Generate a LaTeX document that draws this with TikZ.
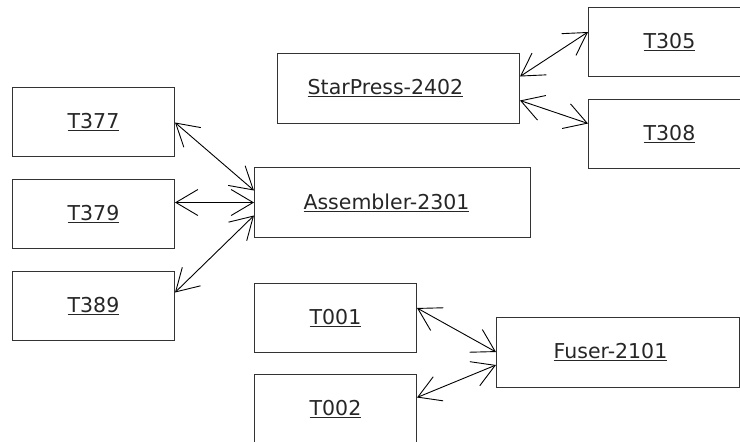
\documentclass[tikz,border=0pt]{standalone}
\usepackage{fontspec}
\setmainfont{DejaVu Sans}
\usetikzlibrary{arrows.meta}
\begin{document}
\begin{tikzpicture}[x=1pt,y=-1pt,
  box/.style={draw=black!80,line width=1pt,rectangle,inner sep=0pt,anchor=north west,font=\fontsize{20.5}{24}\selectfont,text=black!85},
  tbox/.style={box,minimum width=162pt,minimum height=69pt},
  bigbox/.style={box,minimum height=70pt},
  link/.style={line width=0.9pt,{Straight Barb[length=22pt,width=26pt]}-{Straight Barb[length=22pt,width=26pt]}}]
\useasboundingbox (0,0) rectangle (740,442);
\clip (0,0) rectangle (740,442);
\node[tbox] (t377) at (12,87) {\underline{T377}};
\node[tbox] (t379) at (12,179) {\underline{T379}};
\node[tbox] (t389) at (12,271) {\underline{T389}};
\node[bigbox,minimum width=276pt] (asm) at (254,167) {\hspace*{-12pt}\underline{Assembler-2301}};
\node[bigbox,minimum width=242pt] (star) at (277,53) {\hspace*{-26pt}\underline{StarPress-2402}};
\node[tbox] (t305) at (588,7) {\underline{T305}};
\node[tbox] (t308) at (588,99) {\underline{T308}};
\node[tbox] (t001) at (254,283) {\underline{T001}};
\node[tbox] (t002) at (254,374) {\underline{T002}};
\node[bigbox,minimum width=243pt] (fuser) at (496,317) {\hspace*{-15pt}\underline{Fuser-2101}};
% connectors
\draw[link] ([yshift=-0.5pt]t377.east) -- ([yshift=12pt]asm.west);
\draw[link] ([yshift=11.5pt]t379.east) -- (asm.west);
\draw[link] ([yshift=13.5pt]t389.east) -- ([yshift=-13pt]asm.west);
\draw[link] ([yshift=12pt]star.east) -- ([yshift=10pt]t305.west);
\draw[link] ([yshift=-12pt]star.east) -- ([yshift=10.5pt]t308.west);
\draw[link] ([yshift=10pt]t001.east) -- ([yshift=0.5pt]fuser.west);
\draw[link] ([yshift=11.5pt]t002.east) -- ([yshift=-12.5pt]fuser.west);
\end{tikzpicture}
\end{document}
